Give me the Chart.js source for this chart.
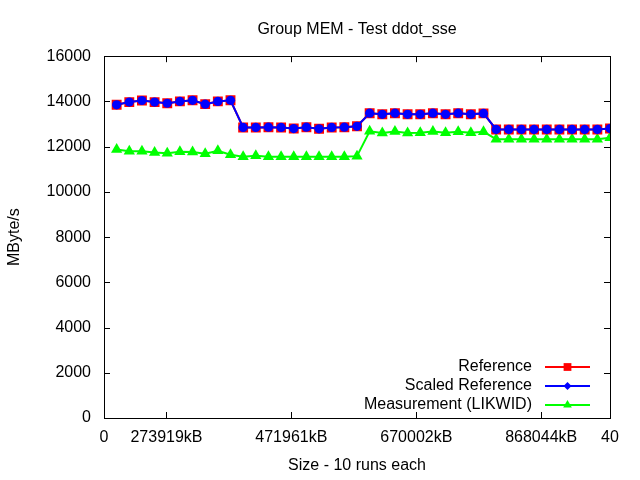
<!DOCTYPE html>
<html>
<head>
<meta charset="utf-8">
<title>Group MEM - Test ddot_sse</title>
<script src="https://cdn.jsdelivr.net/npm/chart.js@4.4.1/dist/chart.umd.min.js"></script>
<style>
  html, body { margin: 0; padding: 0; background: #fff; }
  #wrap { width: 640px; height: 480px; }
</style>
</head>
<body>
<div id="wrap"><canvas id="ddot-chart" width="640" height="480"></canvas></div>
<script>
// run number (x position) of each measurement
const runIndex = [1, 2, 3, 4, 5, 6, 7, 8, 9, 10,
  11, 12, 13, 14, 15, 16, 17, 18, 19, 20,
  21, 22, 23, 24, 25, 26, 27, 28, 29, 30,
  31, 32, 33, 34, 35, 36, 37, 38, 39, 40];

// MByte/s values
const reference = [13850, 13970, 14040, 13970, 13920, 14000, 14050, 13880, 14000, 14050,
  12850, 12850, 12860, 12850, 12800, 12860, 12790, 12850, 12860, 12900,
  13480, 13430, 13480, 13430, 13430, 13480, 13430, 13480, 13430, 13470,
  12760, 12760, 12760, 12760, 12760, 12760, 12760, 12760, 12760, 12800];
const scaledReference = [13850, 13970, 14040, 13970, 13920, 14000, 14050, 13880, 14000, 14050,
  12850, 12850, 12860, 12850, 12800, 12860, 12790, 12850, 12860, 12900,
  13480, 13430, 13480, 13430, 13430, 13480, 13430, 13480, 13430, 13470,
  12760, 12760, 12760, 12760, 12760, 12760, 12760, 12760, 12760, 12800];
const measurement = [11870, 11800, 11800, 11740, 11710, 11770, 11760, 11690, 11820, 11640,
  11550, 11600, 11550, 11550, 11550, 11550, 11550, 11550, 11550, 11580,
  12680, 12600, 12670, 12600, 12620, 12670, 12610, 12660, 12610, 12660,
  12330, 12330, 12330, 12330, 12330, 12330, 12330, 12330, 12330, 12390];

// x tick positions and their labels
const xTickPos = [0, 4.94, 14.81, 24.69, 34.56, 40];
const xTickLabels = ["0", "273919kB", "471961kB", "670002kB", "868044kB", "40"];

const FONT = "'Liberation Sans', Arial, sans-serif";
Chart.defaults.font.family = FONT;
Chart.defaults.font.size = 16;
Chart.defaults.color = "#000";

const toPoints = (ys) => ys.map((y, i) => ({ x: runIndex[i], y: y }));

// centre the title over the plot box instead of the whole canvas
const titleCenterPlugin = {
  id: "titleCenter",
  afterLayout(chart) {
    if (chart.titleBlock) {
      chart.titleBlock.left = chart.chartArea.left;
      chart.titleBlock.right = chart.chartArea.right;
    }
  },
};

// box round the plot with inward ticks on all sides (gnuplot look)
const framePlugin = {
  id: "frame",
  afterDraw(chart) {
    const { ctx, chartArea: a, scales } = chart;
    const tl = 6;
    ctx.save();
    ctx.strokeStyle = "#000";
    ctx.lineWidth = 1;
    ctx.beginPath();
    scales.y.ticks.forEach((t) => {
      const y = Math.round(scales.y.getPixelForValue(t.value)) + 0.5;
      ctx.moveTo(a.left, y); ctx.lineTo(a.left + tl, y);
      ctx.moveTo(a.right, y); ctx.lineTo(a.right - tl, y);
    });
    scales.x.ticks.forEach((t) => {
      const x = Math.round(scales.x.getPixelForValue(t.value)) + 0.5;
      ctx.moveTo(x, a.bottom); ctx.lineTo(x, a.bottom - tl);
      ctx.moveTo(x, a.top); ctx.lineTo(x, a.top + tl);
    });
    ctx.stroke();
    ctx.strokeRect(Math.round(a.left) + 0.5, Math.round(a.top) + 0.5,
      Math.round(a.right - a.left), Math.round(a.bottom - a.top));
    ctx.restore();
  },
};

// key in the bottom right corner: text first, then sample line and marker
const keyPlugin = {
  id: "key",
  afterDraw(chart) {
    const { ctx } = chart;
    const items = [0, 1, 2].map((i) => chart.data.datasets[i]);
    const textRight = 532, lineL = 545, lineR = 590, top = 367, step = 19;
    ctx.save();
    ctx.font = "16px " + FONT;
    ctx.textAlign = "right";
    ctx.textBaseline = "middle";
    items.forEach((ds, i) => {
      const y = top + i * step;
      ctx.fillStyle = "#000";
      ctx.fillText(ds.label, textRight, y);
      ctx.strokeStyle = ds.borderColor;
      ctx.lineWidth = 2;
      ctx.beginPath();
      ctx.moveTo(lineL, y);
      ctx.lineTo(lineR, y);
      ctx.stroke();
      ctx.fillStyle = ds.pointBackgroundColor;
      Chart.helpers.drawPoint(ctx, {
        pointStyle: ds.keyStyle,
        radius: ds.keyRadius,
        borderWidth: 0,
        rotation: 0,
      }, (lineL + lineR) / 2, y);
    });
    ctx.restore();
  },
};

document.addEventListener("DOMContentLoaded", () => {
  const ctx = document.getElementById("ddot-chart").getContext("2d");
  new Chart(ctx, {
    type: "line",
    data: {
      datasets: [
        {
          label: "Reference",
          data: toPoints(reference),
          borderColor: "#ff0000",
          backgroundColor: "#ff0000",
          pointBackgroundColor: "#ff0000",
          pointBorderWidth: 0,
          pointStyle: "rect",
          pointRadius: 7,
          keyStyle: "rect",
          keyRadius: 5.5,
          borderWidth: 2,
          order: 2,
        },
        {
          label: "Scaled Reference",
          data: toPoints(scaledReference),
          borderColor: "#0000ff",
          backgroundColor: "#0000ff",
          pointBackgroundColor: "#0000ff",
          pointBorderWidth: 0,
          pointStyle: "circle",
          pointRadius: 4.6,
          keyStyle: "rectRot",
          keyRadius: 4,
          borderWidth: 2,
          order: 1,
        },
        {
          label: "Measurement (LIKWID)",
          data: toPoints(measurement),
          borderColor: "#00ff00",
          backgroundColor: "#00ff00",
          pointBackgroundColor: "#00ff00",
          pointBorderWidth: 0,
          pointStyle: "triangle",
          pointRadius: 6.5,
          keyStyle: "triangle",
          keyRadius: 5,
          borderWidth: 2,
          order: 3,
        },
      ],
    },
    options: {
      responsive: false,
      animation: false,
      devicePixelRatio: 1,
      layout: { padding: { left: 0, right: 30, top: 0, bottom: 0 } },
      elements: { line: { tension: 0 } },
      plugins: {
        legend: { display: false },
        tooltip: { enabled: false },
        title: {
          display: true,
          text: "Group MEM - Test ddot_sse",
          color: "#000",
          font: { size: 16, weight: "normal" },
          padding: { top: 20, bottom: 17 },
        },
      },
      scales: {
        x: {
          type: "linear",
          min: 0,
          max: 40,
          grid: { display: false, drawTicks: false, tickLength: 0 },
          border: { display: false },
          afterBuildTicks: (scale) => {
            scale.ticks = xTickPos.map((v) => ({ value: v }));
          },
          afterFit: (scale) => { scale.height = 62; },
          ticks: {
            color: "#000",
            padding: 10,
            maxRotation: 0,
            autoSkip: false,
            callback: (value, index) => xTickLabels[index],
          },
          title: {
            display: true,
            text: "Size - 10 runs each",
            color: "#000",
            padding: { top: 4, bottom: 5 },
          },
        },
        y: {
          min: 0,
          max: 16000,
          grid: { display: false, drawTicks: false, tickLength: 0 },
          border: { display: false },
          afterFit: (scale) => { scale.width = 104; },
          ticks: {
            stepSize: 2000,
            color: "#000",
            padding: 13,
            callback: (value) => String(value),
          },
          title: {
            display: true,
            text: "MByte/s",
            color: "#000",
            padding: { top: 5, bottom: 4 },
          },
        },
      },
    },
    plugins: [titleCenterPlugin, framePlugin, keyPlugin],
  });
});
</script>
</body>
</html>
